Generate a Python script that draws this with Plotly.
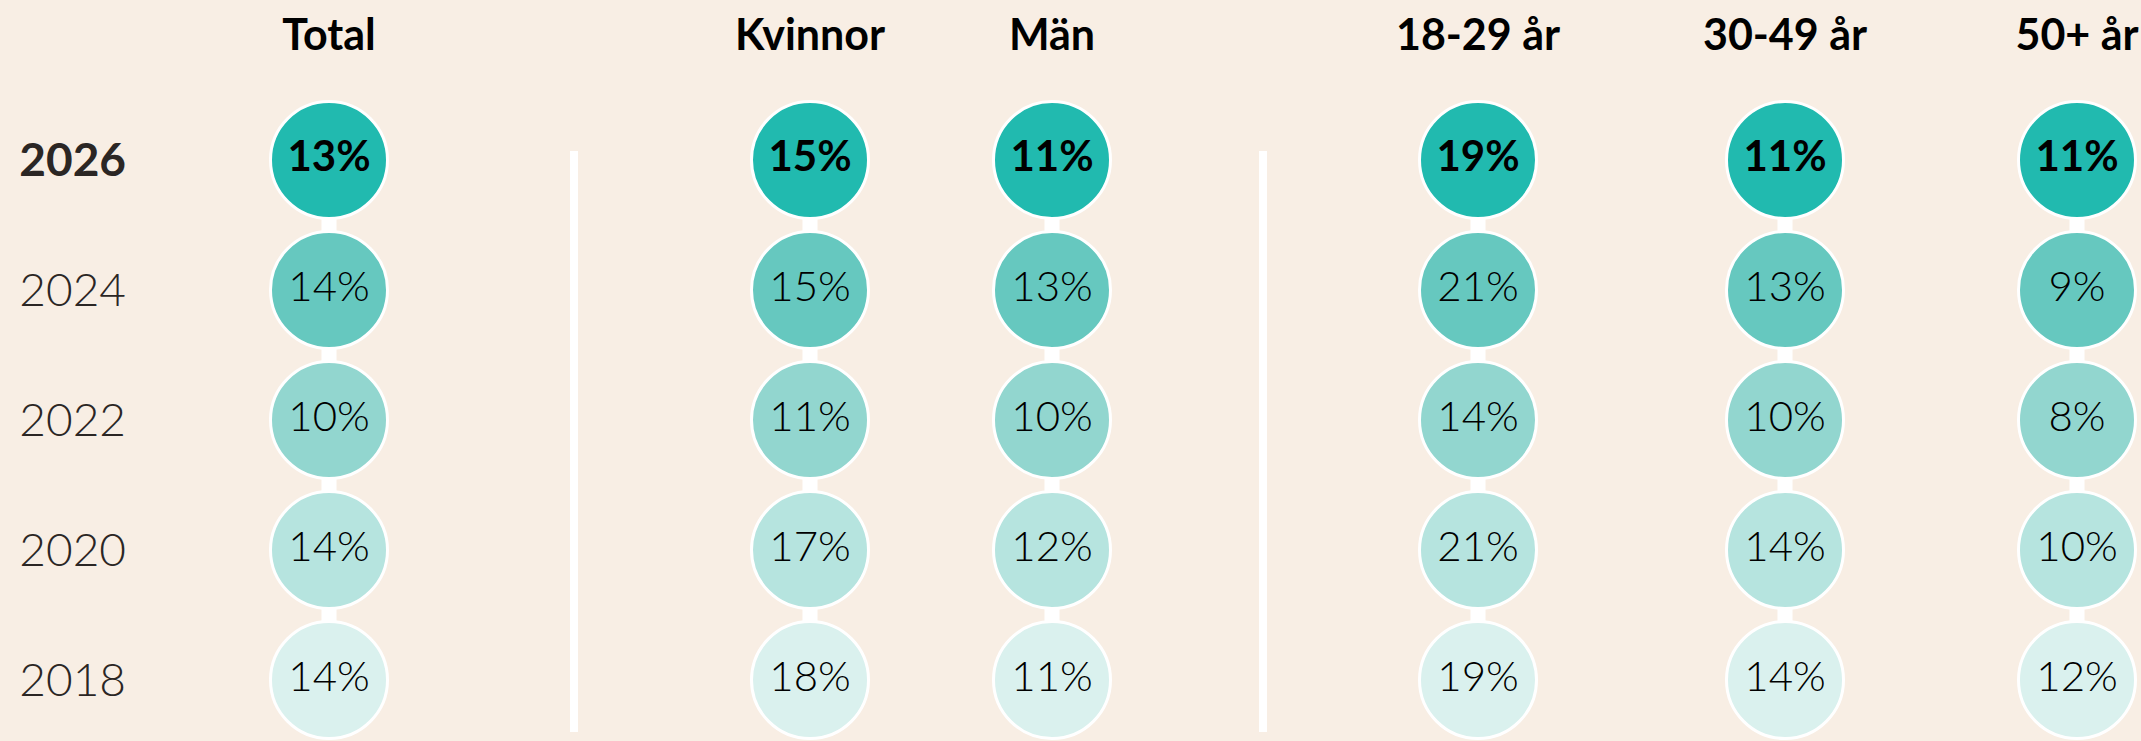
import plotly.graph_objects as go

# ---------------- data ----------------
years = ["2026", "2024", "2022", "2020", "2018"]
groups = ["Total", "Kvinnor", "Män", "18-29 år", "30-49 år", "50+ år"]
total = [13, 14, 10, 14, 14]
kvinnor = [15, 15, 11, 17, 18]
man = [11, 13, 10, 12, 11]
age_18_29 = [19, 21, 14, 21, 19]
age_30_49 = [11, 13, 10, 14, 14]
age_50 = [11, 9, 8, 10, 12]
series = [total, kvinnor, man, age_18_29, age_30_49, age_50]

# ---------------- layout / style ----------------
W, H = 2141, 741
BG = "#F8EEE4"
ROW_COLORS = ["#21BAAF", "#66C8BF", "#92D6CF", "#B6E4DF", "#DAF1EE"]
COL_X = [329, 810, 1052, 1478, 1785, 2077]      # column centres (px)
SEP_X = [574, 1263]                              # group separators (px)
M_L, M_T = 127, 60
FIRST_ROW_PX, ROW_PITCH = 160, 130
FONT = "Lato"

r_top = -(FIRST_ROW_PX - M_T) / ROW_PITCH
r_bot = r_top + (H - M_T) / ROW_PITCH

fig = go.Figure()

# white connectors behind the circles
for cx, vals in zip(COL_X, series):
    fig.add_trace(go.Scatter(
        x=[cx] * len(years), y=years, mode="lines",
        line=dict(color="white", width=15), hoverinfo="skip", showlegend=False))

# circles with labels
for cx, vals in zip(COL_X, series):
    texts = [f"<b>{v}%</b>" if i == 0 else f"{v}%" for i, v in enumerate(vals)]
    fig.add_trace(go.Scatter(
        x=[cx] * len(years), y=years, mode="markers+text",
        marker=dict(size=117, color=ROW_COLORS, line=dict(color="white", width=3)),
        text=texts, textposition="middle center",
        textfont=dict(family=FONT, size=42, color="#000000", weight=300),
        hoverinfo="skip", showlegend=False, cliponaxis=False))

# separators
for sx in SEP_X:
    fig.add_shape(type="line", xref="x", yref="y", x0=sx, x1=sx,
                  y0=-(FIRST_ROW_PX - 151) / ROW_PITCH,
                  y1=(732 - FIRST_ROW_PX) / ROW_PITCH,
                  line=dict(color="white", width=8), layer="below")

fig.update_layout(
    width=W, height=H,
    paper_bgcolor=BG, plot_bgcolor=BG,
    margin=dict(l=M_L, r=0, t=M_T, b=0),
    showlegend=False,
    xaxis=dict(range=[M_L, W], side="top", showgrid=False, zeroline=False,
               showline=False, ticks="", tickvals=COL_X,
               ticktext=[f"<b>{g}</b>" for g in groups],
               tickfont=dict(family=FONT, size=43, color="#000000"),
               fixedrange=True),
    yaxis=dict(type="category", categoryarray=years, range=[r_bot, r_top],
               showgrid=False, zeroline=False, showline=False, ticks="",
               tickvals=years,
               ticktext=["<b>2026</b>"] + years[1:],
               tickfont=dict(family=FONT, size=46, color="#2B2624", weight=300),
               fixedrange=True),
)

fig.write_html("out.html", config={"displayModeBar": False},
               post_script="document.body.style.margin='0';document.body.style.background='%s';" % BG)
